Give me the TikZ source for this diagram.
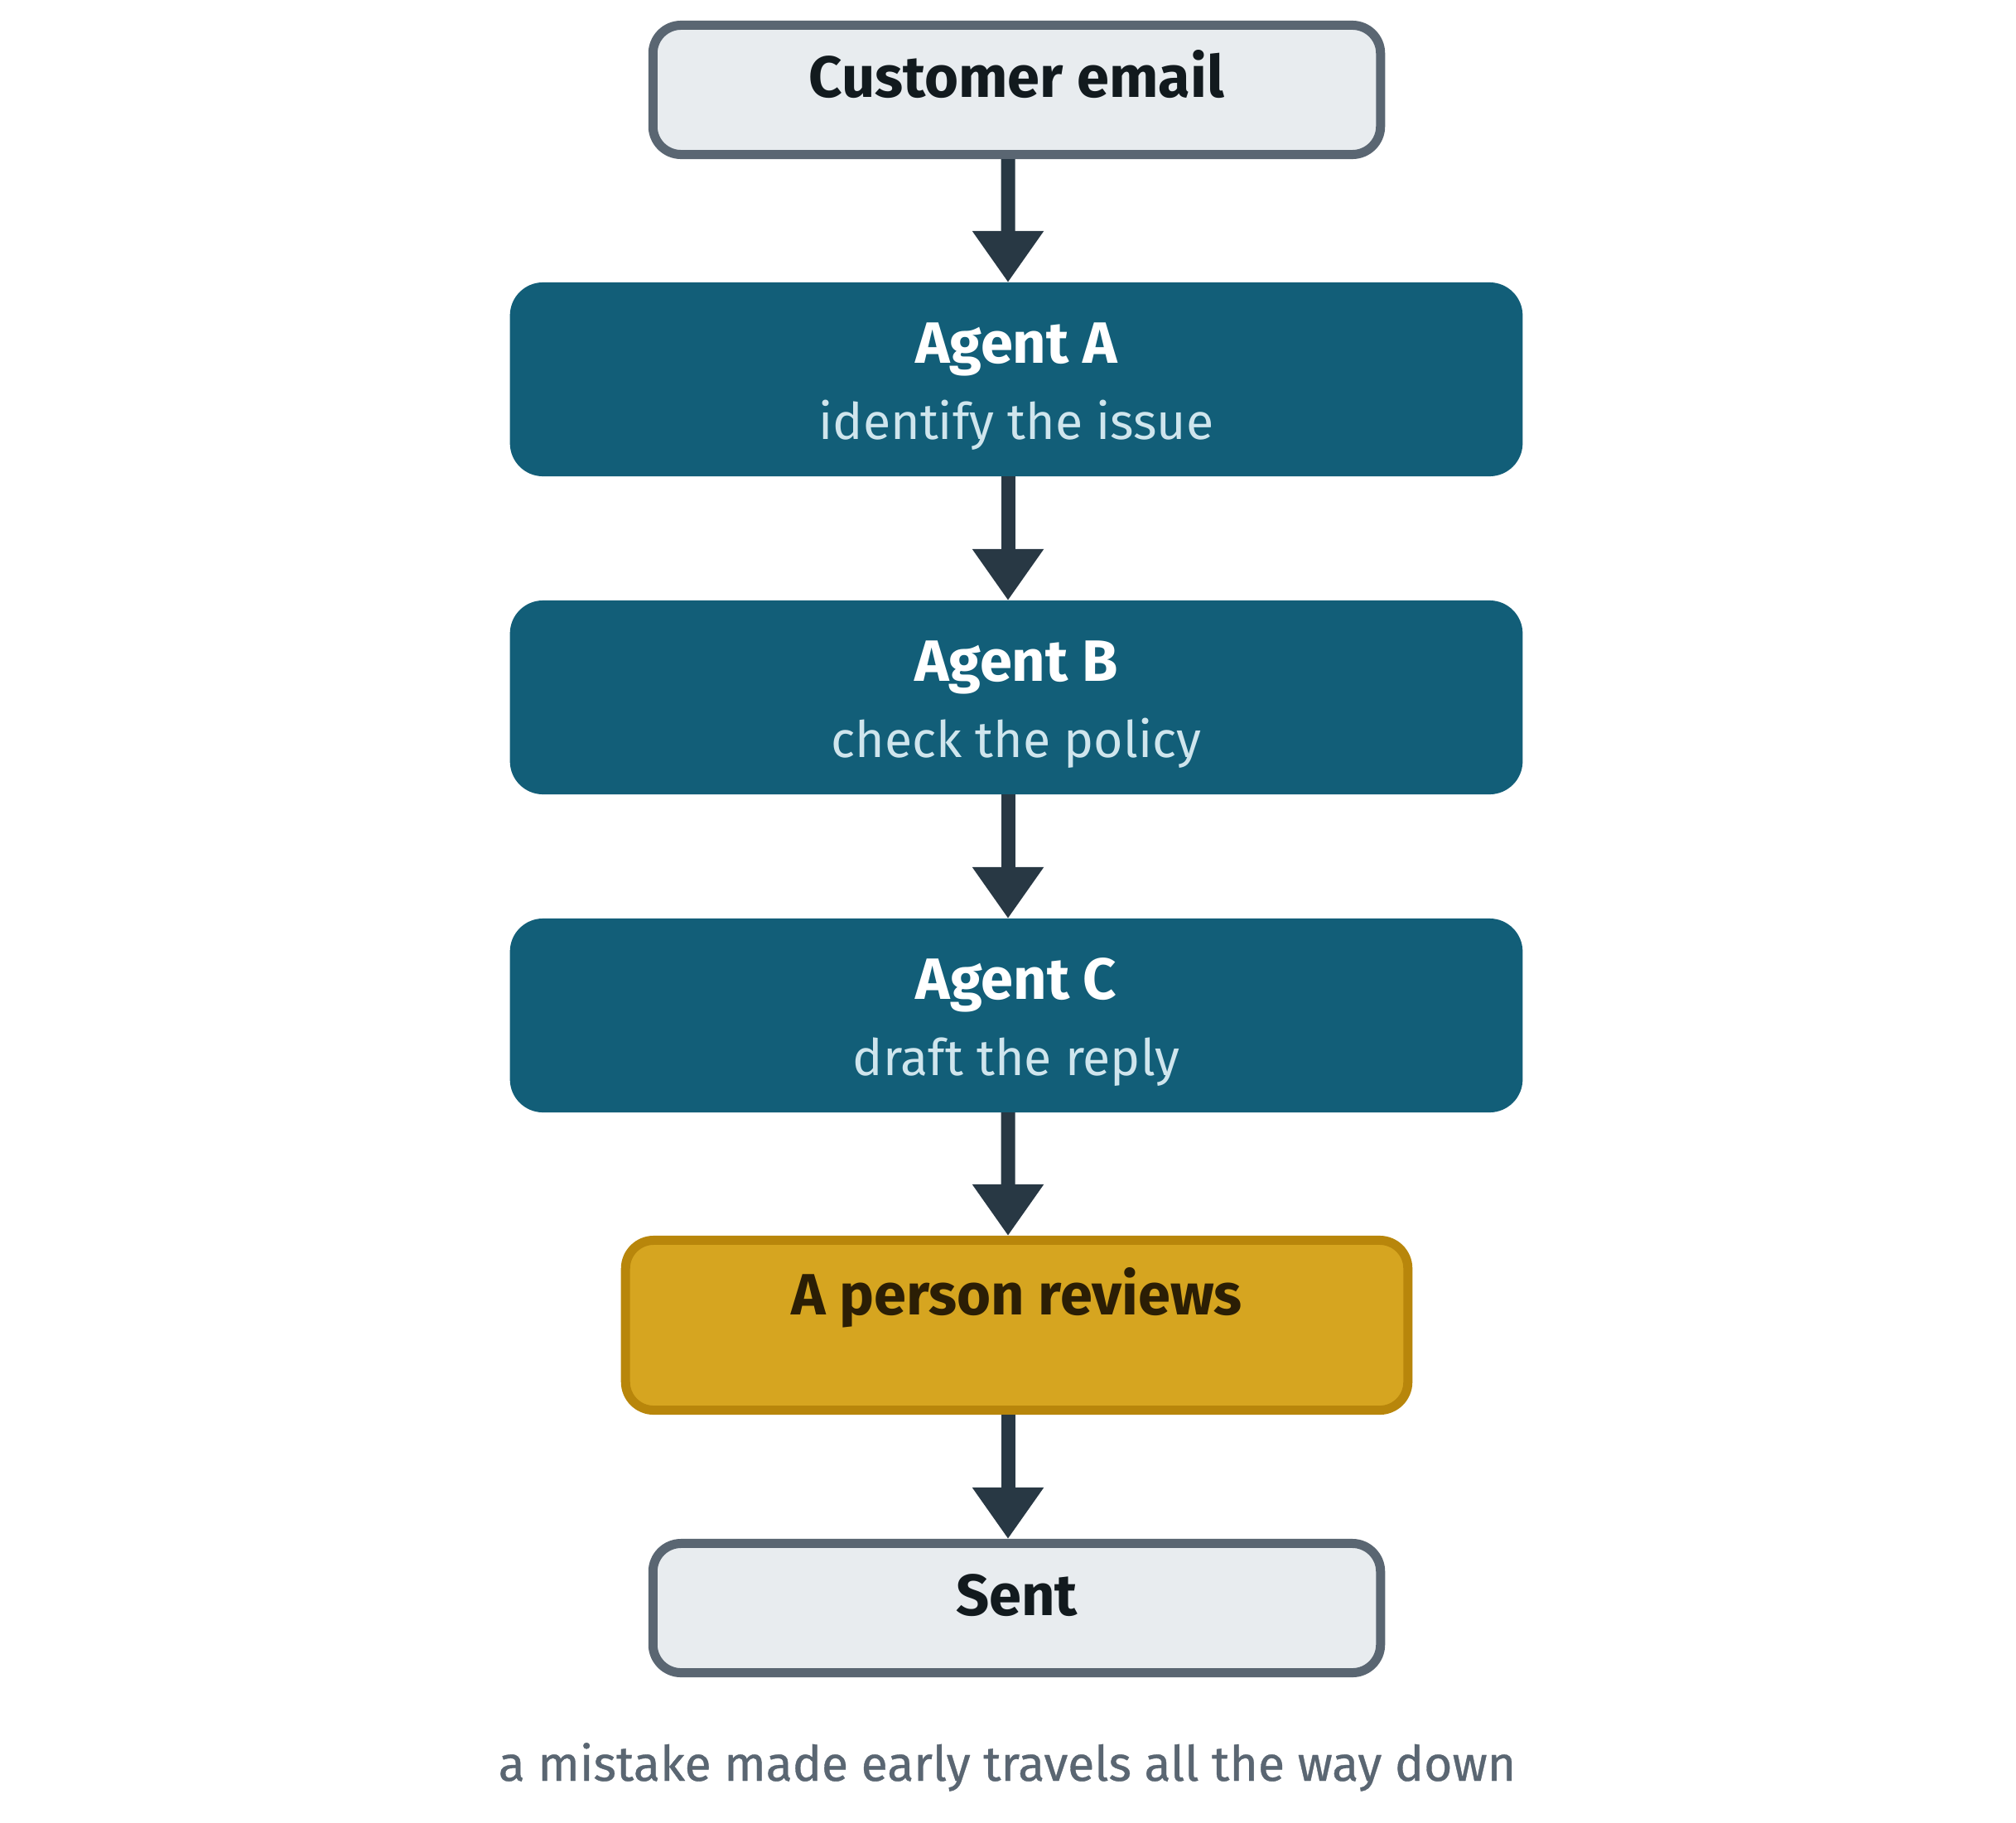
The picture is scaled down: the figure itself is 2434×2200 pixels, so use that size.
\documentclass[tikz,border=0pt]{standalone}
\usepackage{fontspec}
\setmainfont{Fira Sans}
\newfontfamily\capfont[FakeBold=0.6]{Fira Sans}
\usetikzlibrary{arrows.meta}
\definecolor{lightfill}{HTML}{E8ECEF}
\definecolor{slateline}{HTML}{5A6672}
\definecolor{darktext}{HTML}{121A1E}
\definecolor{agentfill}{HTML}{125E78}
\definecolor{subtext}{HTML}{CFE5ED}
\definecolor{goldfill}{HTML}{D6A520}
\definecolor{goldline}{HTML}{B8860B}
\definecolor{goldtext}{HTML}{2B1E05}
\definecolor{arrowcol}{HTML}{283844}
\tikzset{
  endbox/.style={draw=slateline, fill=lightfill, line width=0.11cm, rounded corners=0.34cm,
    minimum width=8.78cm, minimum height=1.56cm, inner sep=0pt},
  agentbox/.style={draw=none, fill=agentfill, rounded corners=0.4cm, outer sep=0pt,
    minimum width=12.22cm, minimum height=2.34cm, inner sep=0pt},
  personbox/.style={draw=goldline, fill=goldfill, line width=0.11cm, rounded corners=0.34cm,
    minimum width=9.44cm, minimum height=2.05cm, inner sep=0pt},
  title/.style={anchor=base, inner sep=0pt, font=\fontsize{20}{24}\selectfont\bfseries},
  subtitle/.style={anchor=base, inner sep=0pt, text=subtext, font=\fontsize{17.3}{21}\selectfont},
  caption/.style={anchor=base, inner sep=0pt, text=slateline, font=\fontsize{16.75}{21}\selectfont\capfont},
  flow/.style={draw=arrowcol, line width=0.17cm, -{Triangle[length=0.62cm,width=0.82cm,fill=arrowcol]}}
}
\begin{document}
\begin{tikzpicture}[x=0.01cm, y=-0.01cm]
\useasboundingbox (0,0) rectangle (2434,2200);
% boxes
\node[endbox] (cust) at (1227.5,108.5) {};
\node[agentbox] (ageA) at (1227,458) {};
\node[agentbox] (ageB) at (1227,842) {};
\node[agentbox] (ageC) at (1227,1226) {};
\node[personbox] (person) at (1227.5,1600) {};
\node[endbox] (sent) at (1227.5,1941.5) {};
% texts
\node[title, text=darktext] (tcust) at (1227.5,117) {Customer email};
\node[title, text=white] (tA) at (1227,438) {Agent A};
\node[subtitle] (sA) at (1227,530) {identify the issue};
\node[title, text=white] (tB) at (1227,822) {Agent B};
\node[subtitle] (sB) at (1227,914) {check the policy};
\node[title, text=white] (tC) at (1227,1206) {Agent C};
\node[subtitle] (sC) at (1227,1298) {draft the reply};
\node[title, text=goldtext] (tperson) at (1227.5,1587) {A person reviews};
\node[title, text=darktext] (tsent) at (1227.5,1950) {Sent};
\node[caption] (cap) at (1216,2150) {a mistake made early travels all the way down};
% connectors
\draw[flow] ([xshift=-0.105cm]cust.south) -- ([xshift=-0.1cm]ageA.north);
\draw[flow] ([xshift=-0.1cm]ageA.south) -- ([xshift=-0.1cm]ageB.north);
\draw[flow] ([xshift=-0.1cm]ageB.south) -- ([xshift=-0.1cm]ageC.north);
\draw[flow] ([xshift=-0.1cm]ageC.south) -- ([xshift=-0.105cm]person.north);
\draw[flow] ([xshift=-0.105cm]person.south) -- ([xshift=-0.105cm]sent.north);
\end{tikzpicture}
\end{document}
